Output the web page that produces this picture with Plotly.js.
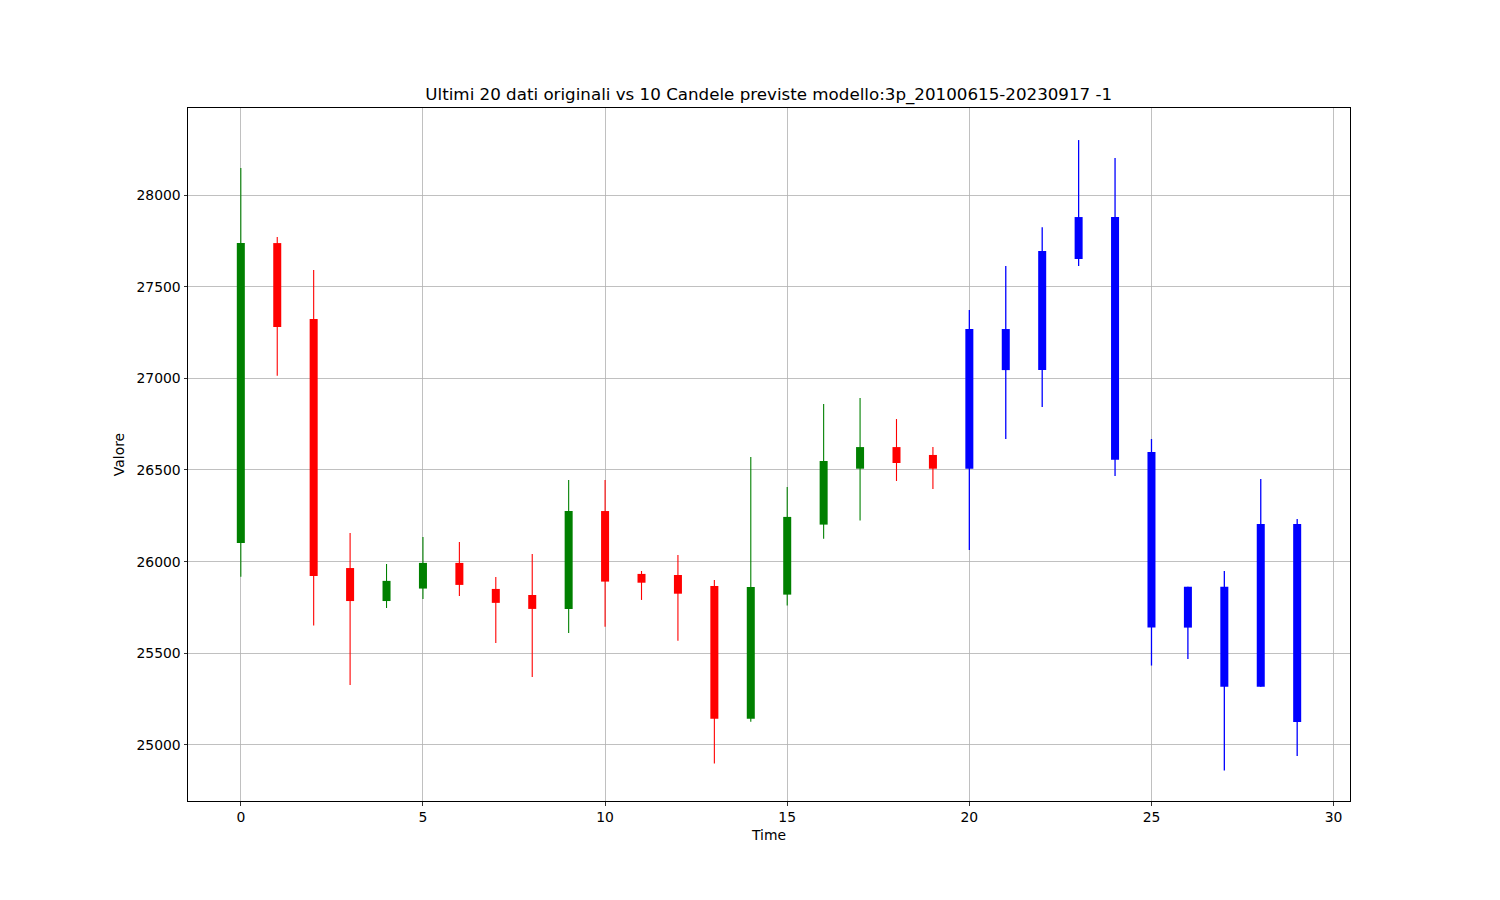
<!DOCTYPE html>
<html>
<head>
<meta charset="utf-8">
<script src="https://cdn.plot.ly/plotly-3.0.1.min.js"></script>
<style>html,body{margin:0;padding:0;background:#fff;}#chart{width:1500px;height:900px;}</style>
</head>
<body>
<div id="chart"></div>
<script>
// Values
const times = [0,1,2,3,4,5,6,7,8,9,10,11,12,13,14,15,16,17,18,19,20,21,22,23,24,25,26,27,28,29];
const openV  = [26102,27738,27324,25965,25785,25853,25993,25851,25818,25742,26276,25933,25927,25867,25143,25820,26202,26507,26625,26582,
                26507,27269,27045,27651,27880,26598,25640,25863,25318,26205];
const closeV = [27738,27280,25922,25785,25895,25993,25873,25775,25742,26276,25891,25885,25825,25143,25862,26244,26549,26625,26538,26507,
                27269,27045,27695,27880,26556,25640,25863,25318,26205,25125];
const highV  = [28147,27771,27591,26156,25987,26135,26107,25916,26042,26445,26445,25949,26036,25900,26571,26407,26860,26893,26778,26625,
                27373,27613,27825,28300,28202,26669,25863,25949,26451,26233];
const lowV   = [25918,27014,25651,25327,25747,25796,25813,25556,25371,25611,25645,25791,25569,24898,25127,25760,26125,26224,26440,26396,
                26064,26669,26844,27613,26467,25433,25469,24860,25318,24940];
const nOriginal = 20;
const titleText = "Ultimi 20 dati originali vs 10 Candele previste modello:3p_20100615-20230917 -1";

function colorFor(i){
  if (i >= nOriginal) return "#0000ff";
  return closeV[i] >= openV[i] ? "#008000" : "#ff0000";
}

const traces = [];
// wicks, one trace per colour
const groups = {};
times.forEach((t,i)=>{
  const c = colorFor(i);
  if(!groups[c]) groups[c] = {x:[], y:[]};
  groups[c].x.push(t,t,null);
  groups[c].y.push(lowV[i], highV[i], null);
});
Object.keys(groups).forEach(c=>{
  traces.push({type:"scatter", mode:"lines", x:groups[c].x, y:groups[c].y,
    line:{color:c, width: c==="#0000ff"?1.3:1.1}, hoverinfo:"skip", showlegend:false, cliponaxis:true});
});
// bodies
traces.push({
  type:"bar",
  x: times,
  base: times.map((t,i)=>Math.min(openV[i], closeV[i])),
  y: times.map((t,i)=>Math.abs(closeV[i]-openV[i])),
  width: 0.22,
  marker:{color: times.map((t,i)=>colorFor(i)), line:{width:0}},
  showlegend:false
});

const layout = {
  width:1500, height:900,
  paper_bgcolor:"#ffffff", plot_bgcolor:"#ffffff",
  margin:{l:188, r:150, t:108, b:99, pad:0},
  font:{family:"DejaVu Sans, sans-serif", size:13.9, color:"#000"},
  title:{text:titleText, x:0.5125, xanchor:"center", y:0.895, yanchor:"middle", font:{size:16.7, color:"#000"}},
  barmode:"overlay",
  xaxis:{
    range:[-1.45, 30.45], tickmode:"array", tickvals:[0,5,10,15,20,25,30],
    showgrid:true, gridcolor:"#b0b0b0", gridwidth:0.8,
    zeroline:false, showline:true, linecolor:"#000", linewidth:1, mirror:true,
    ticks:"outside", ticklen:3.5, tickwidth:0.8, tickcolor:"#000",
    title:{text:"Time", font:{size:13.9}, standoff:6}
  },
  yaxis:{
    range:[24694, 28475], tickmode:"array", tickvals:[25000,25500,26000,26500,27000,27500,28000],
    tickformat:"d",
    showgrid:true, gridcolor:"#b0b0b0", gridwidth:0.8,
    zeroline:false, showline:true, linecolor:"#000", linewidth:1, mirror:true,
    ticks:"outside", ticklen:3.5, tickwidth:0.8, tickcolor:"#000",
    title:{text:"Valore", font:{size:13.9}, standoff:8}
  }
};

Plotly.newPlot("chart", traces, layout, {displayModeBar:false, staticPlot:true});
</script>
</body>
</html>
